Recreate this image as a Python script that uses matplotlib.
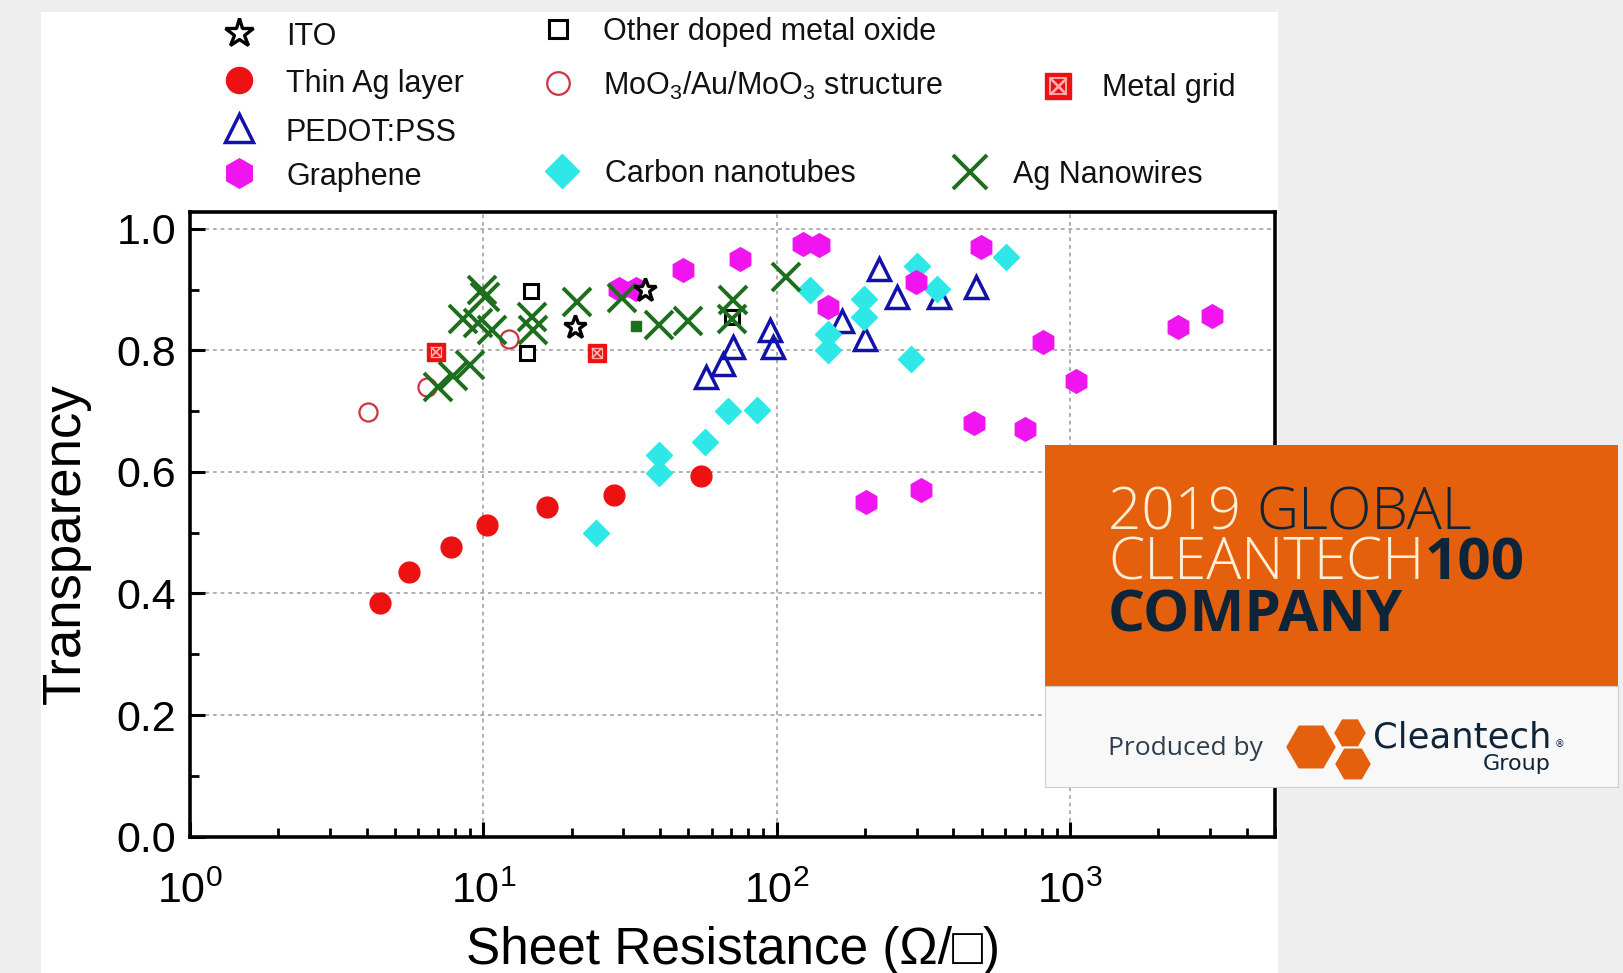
"""
Transparency vs sheet resistance of transparent electrodes, with badge overlay
"""
import numpy as np
import matplotlib
matplotlib.use('Agg')
import matplotlib.pyplot as plt
from matplotlib import rcParams
from matplotlib.patches import Rectangle, RegularPolygon
from matplotlib.ticker import MultipleLocator, FormatStrFormatter, LogLocator

rcParams['font.family'] = ['Liberation Sans', 'DejaVu Sans']
rcParams['mathtext.fontset'] = 'custom'
rcParams['mathtext.rm'] = 'Liberation Sans'
rcParams['mathtext.it'] = 'Liberation Sans:italic'
rcParams['mathtext.bf'] = 'Liberation Sans:bold'

# ---- data (sheet resistance in ohm/sq, transparency) ----
ito_x = [20.5, 35.5]
ito_y = [0.838, 0.900]

thin_ag_x = [4.45, 5.56, 7.78, 10.3, 16.5, 27.8, 55.3]
thin_ag_y = [0.385, 0.435, 0.476, 0.513, 0.542, 0.562, 0.594]

pedot_x = [57.5, 65.6, 71.1, 94.8, 97.5, 167, 200, 223, 258, 358, 477]
pedot_y = [0.756, 0.778, 0.805, 0.833, 0.805, 0.849, 0.819, 0.934, 0.888, 0.888, 0.904]

graphene_x = [29, 33.2, 47.9, 74.8, 123, 139, 150, 298, 497, 809, 1050, 2330, 3050,
              202, 310, 471, 700]
graphene_y = [0.901, 0.901, 0.932, 0.951, 0.975, 0.973, 0.871, 0.912, 0.970, 0.814,
              0.749, 0.839, 0.856, 0.551, 0.570, 0.680, 0.670]

cnt_x = [24.2, 39.7, 39.7, 57, 68.2, 86, 130, 150, 150, 198, 198, 286, 301, 353, 605]
cnt_y = [0.499, 0.628, 0.598, 0.649, 0.700, 0.701, 0.900, 0.827, 0.800, 0.885, 0.855,
         0.786, 0.938, 0.901, 0.953]

agnw_x = [7.0, 7.9, 9.0, 8.55, 9.9, 10.1, 9.6, 10.7, 14.6, 14.8, 20.9, 29.8, 39.8,
          49.8, 71.1, 70.2, 108]
agnw_y = [0.740, 0.758, 0.775, 0.852, 0.900, 0.888, 0.845, 0.834, 0.855, 0.833, 0.879,
          0.886, 0.841, 0.849, 0.882, 0.852, 0.921]

oxide_x = [14.5, 14.1, 70.5]
oxide_y = [0.897, 0.795, 0.855]

moo3_x = [4.05, 6.45, 12.2]
moo3_y = [0.699, 0.740, 0.818]

grid_x = [6.9, 24.5]
grid_y = [0.797, 0.796]

misc_x = [33.2]
misc_y = [0.840]

y_ticks = [0.0, 0.2, 0.4, 0.6, 0.8, 1.0]

# ---- marker styles ----
STYLES = {
    'thin_ag': dict(marker='o', ms=15, mfc='#ee1111', mec='#ee1111', mew=1),
    'grid': dict(marker='s', ms=12.5, mfc='#ee1111', mec='#ee1111', mew=1),
    'moo3': dict(marker='o', ms=13, mfc='white', mec='#cc3340', mew=1.6),
    'oxide': dict(marker='s', ms=10.5, mfc='white', mec='black', mew=2.2),
    'pedot': dict(marker='^', ms=16, mfc='none', mec='#1212a8', mew=2.5),
    'cnt': dict(marker='D', ms=13.5, mfc='#2ee8e8', mec='#2ee8e8', mew=1),
    'graphene': dict(marker='h', ms=17, mfc='#f015f0', mec='#f015f0', mew=1),
    'agnw': dict(marker='x', ms=20, mec='#1d6e1d', mew=2.8),
    'misc': dict(marker='s', ms=7, mfc='#1d6e1d', mec='#1d6e1d', mew=1),
    'ito': dict(marker='*', ms=17, mfc='white', mec='black', mew=2.4),
}

W, H = 1623, 973
fig = plt.figure(figsize=(W / 100, H / 100), dpi=100)
fig.patch.set_facecolor('#eeeeee')

# white page behind the chart
bg = fig.add_axes([0, 0, 1, 1], zorder=-5)
bg.set_xlim(0, W)
bg.set_ylim(H, 0)
bg.axis('off')
bg.add_patch(Rectangle((41, 12), 1278 - 41, H - 12, facecolor='white', edgecolor='none'))

ax = fig.add_axes([190 / W, 1 - 836.6 / H, (1275 - 190) / W, (836.6 - 211.7) / H])
ax.set_facecolor('white')


def draw_grid_marker(a, x, y, scale=1.0, **kw):
    st = STYLES['grid']
    a.plot(x, y, ls='none', marker='s', ms=st['ms'] * scale, mfc=st['mfc'],
           mec=st['mec'], **kw)
    a.plot(x, y, ls='none', marker='x', ms=st['ms'] * scale * 0.62,
           mec='#ffb0b0', mew=1.3 * scale, **kw)
    a.plot(x, y, ls='none', marker='s', ms=st['ms'] * scale * 0.62, mfc='none',
           mec='#ffb0b0', mew=0.9 * scale, **kw)


ax.plot(thin_ag_x, thin_ag_y, ls='none', **STYLES['thin_ag'])
draw_grid_marker(ax, grid_x, grid_y)
ax.plot(moo3_x, moo3_y, ls='none', **STYLES['moo3'])
ax.plot(oxide_x, oxide_y, ls='none', **STYLES['oxide'])
ax.plot(pedot_x, pedot_y, ls='none', **STYLES['pedot'])
ax.plot(cnt_x, cnt_y, ls='none', **STYLES['cnt'])
ax.plot(graphene_x, graphene_y, ls='none', **STYLES['graphene'])
ax.plot(agnw_x, agnw_y, ls='none', **STYLES['agnw'])
ax.plot(misc_x, misc_y, ls='none', **STYLES['misc'])
ax.plot(ito_x, ito_y, ls='none', **STYLES['ito'])

ax.set_xscale('log')
ax.set_xlim(1, 5000)
ax.set_ylim(0, 1.028)
ax.set_yticks(y_ticks)
ax.yaxis.set_minor_locator(MultipleLocator(0.1))
ax.yaxis.set_major_formatter(FormatStrFormatter('%.1f'))
ax.xaxis.set_major_locator(LogLocator(base=10, numticks=10))
ax.xaxis.set_minor_locator(LogLocator(base=10, subs=np.arange(2, 10), numticks=20))

ax.grid(True, which='major', linestyle=(0, (2.5, 2.5)), color='#9a9a9a', linewidth=1.1)
for sp in ax.spines.values():
    sp.set_linewidth(2.6)
    sp.set_color('black')
ax.tick_params(which='both', direction='in', top=False, right=False,
               labelsize=31, colors='black')
ax.tick_params(axis='y', which='both', pad=10)
ax.tick_params(axis='x', which='both', pad=25)
ax.tick_params(which='major', length=11, width=2.2)
ax.tick_params(which='minor', length=6.5, width=2.0)

ax.set_xlabel('Sheet Resistance (\u03a9/\u25a1)', fontsize=37)
ax.set_ylabel('Transparency', fontsize=38)
ax.xaxis.set_label_coords(0.5, -0.143)
ax.yaxis.set_label_coords(-0.091, 0.468)

# ---- overlay in pixel coordinates: legend and badge ----
ov = fig.add_axes([0, 0, 1, 1], zorder=5)
ov.set_xlim(0, W)
ov.set_ylim(H, 0)
ov.axis('off')

LEG_SCALE = 1.25
legend_items = [
    ('ITO', 'ito', 239, 33, 286, 45),
    ('Thin Ag layer', 'thin_ag', 239, 80, 286, 92),
    ('PEDOT:PSS', 'pedot', 239, 128, 286, 141),
    ('Graphene', 'graphene', 239, 173, 286, 185),
    ('Other doped metal oxide', 'oxide', 558, 29, 603, 40),
    ('MoO$_\\mathregular{3}$/Au/MoO$_\\mathregular{3}$ structure', 'moo3', 558, 83, 603, 95),
    ('Carbon nanotubes', 'cnt', 562, 171, 605, 182),
    ('Metal grid', 'grid', 1058, 86, 1102, 96),
    ('Ag Nanowires', 'agnw', 970, 172, 1013, 183),
]
for label, key, mx, my, tx, ty in legend_items:
    if key == 'grid':
        draw_grid_marker(ov, [mx], [my], scale=1.45, clip_on=False)
    else:
        st = dict(STYLES[key])
        st['ms'] = st['ms'] * LEG_SCALE
        ov.plot([mx], [my], ls='none', clip_on=False, **st)
    ov.text(tx, ty, label, fontsize=22, color='#111111', ha='left', va='baseline')

# badge
ORANGE = '#e5600c'
CREAM = '#fcefd6'
NAVY = '#0e2539'
ov.add_patch(Rectangle((1045, 445), 1618 - 1045, 686 - 445, facecolor=ORANGE, edgecolor='none'))
ov.add_patch(Rectangle((1045, 686), 1618 - 1045, 787 - 686, facecolor='#f8f8f8',
                       edgecolor='#cfcfcf', linewidth=0.8))

BADGE_FONT = ['Open Sans', 'DejaVu Sans']


def badge_line(x, y, parts, size=42):
    prev = None
    for txt, color, weight in parts:
        if prev is None:
            prev = ov.text(x, y, txt, color=color, fontsize=size, fontweight=weight,
                           family=BADGE_FONT, ha='left', va='baseline')
        else:
            prev = ov.annotate(txt, xy=(1, 0), xycoords=prev, color=color, fontsize=size,
                               fontweight=weight, family=BADGE_FONT, ha='left', va='bottom')


badge_line(1108, 529, [('2019 ', CREAM, 'light'), ('GLOBAL', NAVY, 'light')])
badge_line(1108, 580, [('CLEANTECH', CREAM, 'light'), ('100', NAVY, 'bold')])
badge_line(1108, 632, [('COMPANY', NAVY, 'bold')])

ov.text(1108, 755, 'Produced by', fontsize=19, color='#2d3e4e', family=BADGE_FONT,
        ha='left', va='baseline')
for cx, cy, r in [(1311, 747, 26), (1350, 733, 17), (1353, 764, 19)]:
    ov.add_patch(RegularPolygon((cx, cy), numVertices=6, radius=r, orientation=np.pi / 6,
                                facecolor=ORANGE, edgecolor='#f8f8f8', linewidth=1.5))
ov.text(1373, 748, 'Cleantech', fontsize=25.5, color=NAVY, family='DejaVu Sans',
        ha='left', va='baseline')
ov.text(1555, 747, '\u00ae', fontsize=7, color=NAVY, family='DejaVu Sans',
        ha='left', va='baseline')
ov.text(1551, 770, 'Group', fontsize=16, color=NAVY, family='DejaVu Sans',
        ha='right', va='baseline')

fig.savefig('out.png', dpi=100, facecolor=fig.get_facecolor())
plt.close(fig)
